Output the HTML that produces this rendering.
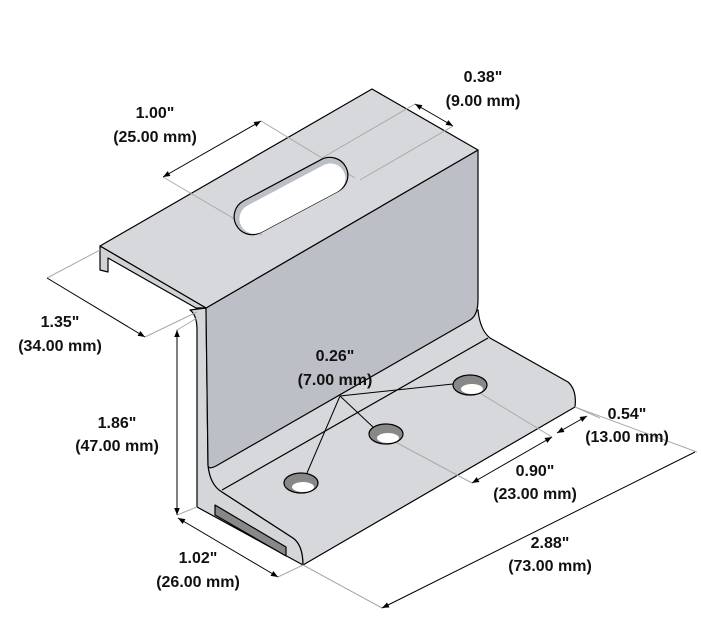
<!DOCTYPE html>
<html><head><style>
html,body{margin:0;padding:0;background:#fff;width:701px;height:622px;overflow:hidden}
svg text{font-family:"Liberation Sans",sans-serif;font-weight:bold;font-size:16px;fill:#111;text-anchor:middle}
</style></head><body>
<svg width="701" height="622" viewBox="0 0 701 622" xmlns="http://www.w3.org/2000/svg">
<defs>
<marker id="a" viewBox="0 0 10 10" refX="10" refY="5" markerWidth="9" markerHeight="7" orient="auto-start-reverse"><path d="M0,1 L10,5 L0,9 z" fill="#000"/></marker>
</defs>
<g stroke="#000" stroke-width="1.2" stroke-linejoin="round">
<path d="M190,310 L206,308 L208,465 Q210,485 222,492 L293,538 Q303,545 303,565 L197,507 L197,330 Q197,315 190,310 Z" fill="#d4d6d9"/>
<path d="M208,465 L478,310 Q480,330 490,338 L568,382 Q577,390 575,407 L303,565 Q303,545 293,538 L222,492 Q210,485 208,465 Z" fill="#d6d8db"/>
<path d="M206,308 L478,150 L478,300 Q478,315 470,320 L216,466 Q208,470 208,465 Z" fill="#bcc0c6"/>
<path d="M222,490 L488,338" fill="none"/>
<path d="M372,89 L478,150 L206,308 L100,246 Z" fill="#d6d8db"/>
<path d="M100,246 L100,270 L108,272 L108,258 L196,308 L206,308 L100,246 Z" fill="#d0d2d5"/>
<path d="M215,505 L286,547 L286,556 L215,515 Z" fill="#888"/>
</g>
<g stroke="#aaa" stroke-width="1" fill="none">
<path d="M163,177 L262,235 M261,121 L355,178 M415,104 L322,158 M453,126 L360,180"/>
<path d="M47,278 L100,250 M145,337 L197,312 M177,330 L197,318 M177,515 L197,507"/>
<path d="M278,577 L303,565 M303,565 L382,608 M575,407 L697,452"/>
<path d="M386,437 L472,483 M470,387 L552,437 M575,407 L600,418"/>
</g>
<g stroke="#000" stroke-width="1" fill="none">
<path d="M163,177 L261,121" marker-start="url(#a)" marker-end="url(#a)"/>
<path d="M415,104 L453,126" marker-start="url(#a)" marker-end="url(#a)"/>
<path d="M47,278 L145,337" marker-end="url(#a)"/>
<path d="M177,330 L177,515" marker-start="url(#a)" marker-end="url(#a)"/>
<path d="M178,518 L278,577" marker-start="url(#a)" marker-end="url(#a)"/>
<path d="M382,608 L695,452" marker-start="url(#a)"/>
<path d="M472,483 L552,437" marker-start="url(#a)" marker-end="url(#a)"/>
<path d="M557,433 L587,416" marker-start="url(#a)" marker-end="url(#a)"/>
</g>
<g transform="translate(291,196) rotate(-28)" stroke="#000" stroke-width="1.2">
<rect x="-62" y="-18" width="124" height="36" rx="18" fill="#bcc0c6"/>
<rect x="-58" y="-12" width="116" height="30" rx="15" fill="#fff" stroke="none"/>
</g>
<g stroke="#000" stroke-width="1.2">
<ellipse cx="301" cy="483" rx="17" ry="10" fill="#888"/>
<ellipse cx="386" cy="434" rx="17" ry="10" fill="#888"/>
<ellipse cx="470" cy="385" rx="17" ry="10" fill="#888"/>
</g>
<g fill="#fff">
<ellipse cx="303" cy="487" rx="11" ry="5"/>
<ellipse cx="388" cy="438" rx="11" ry="5"/>
<ellipse cx="472" cy="389" rx="11" ry="5"/>
</g>
<path d="M307,473 L340,396 L453,384 M340,396 L373,427" stroke="#000" stroke-width="1" fill="none"/>
<text x="483" y="82">0.38"</text><text x="483" y="106">(9.00 mm)</text>
<text x="155" y="118">1.00"</text><text x="155" y="142">(25.00 mm)</text>
<text x="60" y="327">1.35"</text><text x="60" y="351">(34.00 mm)</text>
<text x="117" y="428">1.86"</text><text x="117" y="451">(47.00 mm)</text>
<text x="335" y="361">0.26"</text><text x="335" y="385">(7.00 mm)</text>
<text x="627" y="419">0.54"</text><text x="627" y="442">(13.00 mm)</text>
<text x="535" y="476">0.90"</text><text x="535" y="499">(23.00 mm)</text>
<text x="550" y="548">2.88"</text><text x="550" y="571">(73.00 mm)</text>
<text x="198" y="563">1.02"</text><text x="198" y="587">(26.00 mm)</text>
</svg>
</body></html>
